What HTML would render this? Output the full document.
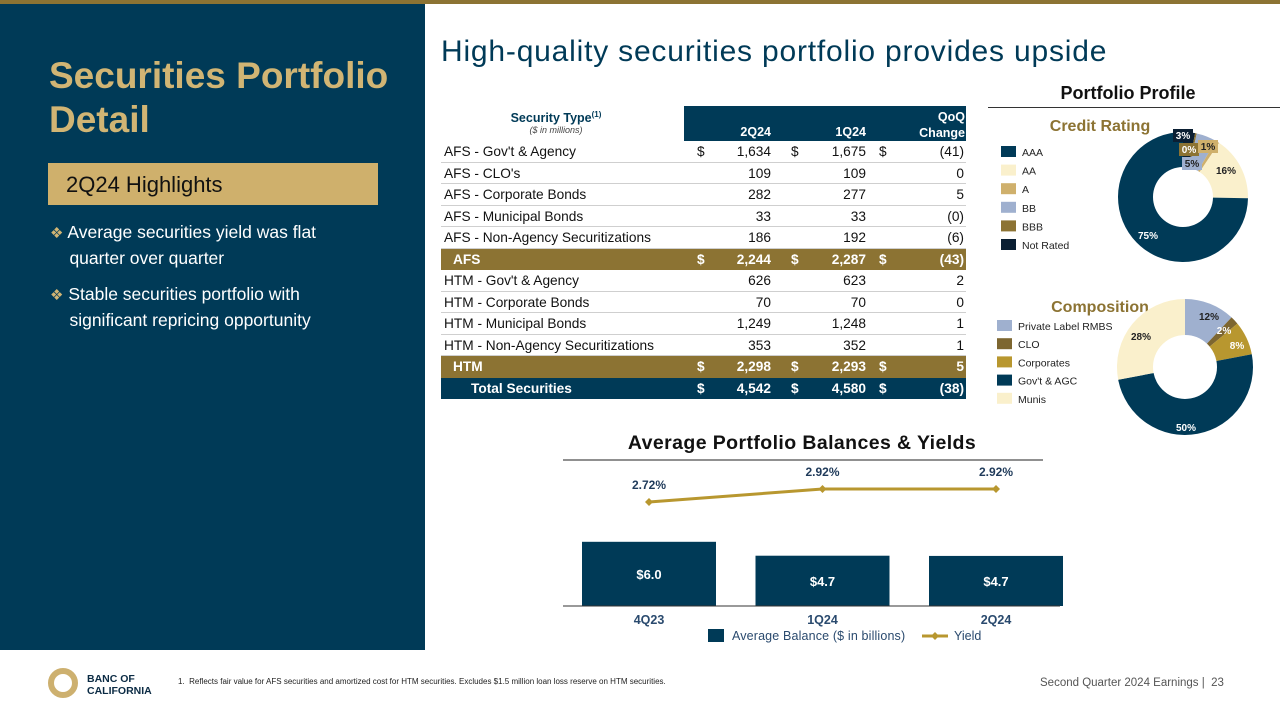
<!DOCTYPE html>
<html><head><meta charset="utf-8">
<style>
*{margin:0;padding:0;box-sizing:border-box}
body{width:1280px;height:720px;position:relative;background:#fff;font-family:"Liberation Sans",Arial,sans-serif;overflow:hidden}
.abs{position:absolute}
.row{position:absolute;left:441px;width:525px;height:21.5px;font-size:13.7px;color:#111;border-bottom:1px solid #cfcfcf}
.row span{position:absolute;top:3px;white-space:nowrap}
.tot{color:#fff;font-weight:bold;border-bottom:none}
</style></head><body>
<div class="abs" style="left:0;top:0;width:1280px;height:4px;background:#8c7333"></div>
<div class="abs" style="left:0;top:4px;width:425px;height:646px;background:#003a57">
  <div class="abs" style="left:49px;top:50px;font-size:37px;line-height:44px;font-weight:bold;color:#d1b574;white-space:nowrap">Securities Portfolio<br>Detail</div>
  <div class="abs" style="left:48px;top:159px;width:330px;height:42px;background:#cfb06c;color:#111;font-size:22px;padding:9px 0 0 18px">2Q24 Highlights</div>
  <div class="abs" style="left:50px;top:216px;width:370px;color:#fff;font-size:17.5px;line-height:25px"><span style="color:#d1b574;font-size:15px">❖</span> Average securities yield was flat<br>&nbsp;&nbsp;&nbsp;&nbsp;quarter over quarter</div>
  <div class="abs" style="left:50px;top:278px;width:370px;color:#fff;font-size:17.5px;line-height:25px"><span style="color:#d1b574;font-size:15px">❖</span> Stable securities portfolio with<br>&nbsp;&nbsp;&nbsp;&nbsp;significant repricing opportunity</div>
</div>
<div class="abs" style="left:441px;top:35px;font-size:30px;letter-spacing:0.8px;color:#003a57;white-space:nowrap">High-quality securities portfolio provides upside</div>

<div id="table">
  <div class="abs" style="left:684px;top:106px;width:282px;height:35px;background:#003a57"></div>
  <div class="abs" style="left:441px;top:110px;width:230px;text-align:center;color:#003a57;font-weight:bold;font-size:12.5px">Security Type<sup style="font-size:8px">(1)</sup><div style="font-weight:normal;font-style:italic;font-size:9px;color:#444">($ in millions)</div></div>
  <div class="abs" style="left:700px;top:125px;width:71px;text-align:right;color:#fff;font-weight:bold;font-size:12.5px">2Q24</div>
  <div class="abs" style="left:800px;top:125px;width:66px;text-align:right;color:#fff;font-weight:bold;font-size:12.5px">1Q24</div>
  <div class="abs" style="left:880px;top:109px;width:85px;text-align:right;color:#fff;font-weight:bold;font-size:12.5px;line-height:16px">QoQ<br>Change</div>
</div>

<div class="abs" style="left:988px;top:83px;width:280px;text-align:center;font-weight:bold;font-size:18px;color:#111">Portfolio Profile</div>
<div class="abs" style="left:988px;top:107px;width:292px;height:1px;background:#333"></div>

<svg class="abs" style="left:0;top:0" width="1280" height="720" id="svg">
  <text x="1100" y="131" text-anchor="middle" font-size="16" font-weight="bold" fill="#8c7333">Credit Rating</text>
  <text x="1100" y="312" text-anchor="middle" font-size="16" font-weight="bold" fill="#8c7333">Composition</text>
  <text x="802" y="449" text-anchor="middle" font-size="19.5" letter-spacing="0.4" font-weight="bold" fill="#111">Average Portfolio Balances &amp; Yields</text>
  <line x1="563" y1="460" x2="1043" y2="460" stroke="#222" stroke-width="1"/>
</svg>

<div class="abs" style="left:48px;top:668px;width:30px;height:30px;border-radius:50%;border:6px solid #cdb06f"></div>
<div class="abs" style="left:87px;top:673px;font-size:10.5px;font-weight:bold;color:#0b2b44;line-height:12px">BANC OF<br>CALIFORNIA</div>
<div class="abs" style="left:178px;top:677px;font-size:8px;color:#222">1.&nbsp; Reflects fair value for AFS securities and amortized cost for HTM securities. Excludes $1.5 million loan loss reserve on HTM securities.</div>
<div class="abs" style="left:1040px;top:677px;font-size:11.5px;color:#555">Second Quarter 2024 Earnings |&nbsp; 23</div>

<script>
// table data
const rowLabels=["AFS - Gov't & Agency","AFS - CLO's","AFS - Corporate Bonds","AFS - Municipal Bonds","AFS - Non-Agency Securitizations","AFS","HTM - Gov't & Agency","HTM - Corporate Bonds","HTM - Municipal Bonds","HTM - Non-Agency Securitizations","HTM","Total Securities"];
const val2Q24=["1,634","109","282","33","186","2,244","626","70","1,249","353","2,298","4,542"];
const val1Q24=["1,675","109","277","33","192","2,287","623","70","1,248","352","2,293","4,580"];
const valQoQ=["(41)","0","5","(0)","(6)","(43)","2","0","1","1","5","(38)"];
const dollarRows=[0,5,10,11];
// credit rating donut
const crLabels=["Not Rated","BBB","BB","A","AA","AAA"];
const crValues=[3,0.4,5,1,16,75];
const crText=["3%","0%","5%","1%","16%","75%"];
// composition donut
const coLabels=["Private Label RMBS","CLO","Corporates","Gov't & AGC","Munis"];
const coValues=[12,2,8,50,28];
// bar/line chart
const categories=["4Q23","1Q24","2Q24"];
const balances=[6.0,4.7,4.68];
const balanceLabels=["$6.0","$4.7","$4.7"];
const yields=[2.72,2.92,2.92];
const yieldLabels=["2.72%","2.92%","2.92%"];

const NS="http://www.w3.org/2000/svg";
const svg=document.getElementById('svg');
function el(tag,attrs,parent){const e=document.createElementNS(NS,tag);for(const k in attrs)e.setAttribute(k,attrs[k]);(parent||svg).appendChild(e);return e;}

// table rows
const tb=document.getElementById('table');
rowLabels.forEach((lab,i)=>{
  const r=document.createElement('div');
  
  
  const tot=(i===5||i===10||i===11);
  r.className='row'+(tot?' tot':'');
  r.style.top=(141+i*21.5)+'px';
  if(tot)r.style.background=(i===11)?'#003a57':'#8c7333';
  const ds=dollarRows.includes(i);
  r.innerHTML='<span style="left:'+(i===11?30:(tot?12:3))+'px">'+lab+'</span>'+
   (ds?'<span style="left:256px">$</span><span style="left:350px">$</span><span style="left:438px">$</span>':'')+
   '<span style="right:195px">'+val2Q24[i]+'</span><span style="right:100px">'+val1Q24[i]+'</span><span style="right:2px">'+valQoQ[i]+'</span>';
  tb.appendChild(r);
});

function donut(cx,cy,R,r,vals,cols,names,labels){
  const tot=vals.reduce((a,b)=>a+b,0);let a0=0;
  vals.forEach((v,i)=>{
    const a1=a0+v/tot*2*Math.PI;
    const p=(a,rad)=>[cx+rad*Math.sin(a),cy-rad*Math.cos(a)];
    const [x1,y1]=p(a0,R),[x2,y2]=p(a1,R),[x3,y3]=p(a1,r),[x4,y4]=p(a0,r);
    const lg=(a1-a0)>Math.PI?1:0;
    const s=el('path',{d:`M${x1},${y1}A${R},${R} 0 ${lg} 1 ${x2},${y2}L${x3},${y3}A${r},${r} 0 ${lg} 0 ${x4},${y4}Z`,fill:cols[i]});
    
    
    a0=a1;
  });
  labels.forEach(l=>{
    if(l[4]){const b=el('rect',{x:l[0]-10,y:l[1]-10,width:20,height:13,fill:l[4]});
      
      }
    const t=el('text',{x:l[0],y:l[1],'font-size':10,'font-weight':'bold','text-anchor':'middle',fill:l[3]});t.textContent=l[2];
    
    });
}
const crCols=["#0b1f33","#8c7333","#9fb0cf","#cfb06c","#faf0cc","#003a57"];
donut(1183,197,65,30,crValues,crCols,crLabels.map(s=>'slice-'+s.toLowerCase().replace(/ /g,'-')),
 [[1183,139,crText[0],'#fff','#0b1f33'],[1189,153,crText[1],'#fff','#8c7333'],[1192,167,crText[2],'#222','#9fb0cf'],[1208,150,crText[3],'#222','#cfb06c'],[1226,174,crText[4],'#222'],[1148,239,crText[5],'#fff']]);
const coCols=["#9fb0cf","#7d6630","#b8972f","#003a57","#faf0cc"];
donut(1185,367,68,32,coValues,coCols,coLabels.map(s=>'slice-'+s.toLowerCase().replace(/[^a-z]+/g,'-')),
 [[1209,320,coValues[0]+'%','#222'],[1224,334,coValues[1]+'%','#fff'],[1237,349,coValues[2]+'%','#fff'],[1186,431,coValues[3]+'%','#fff'],[1141,340,coValues[4]+'%','#222']]);
function legend(x,y,gap,labels,cols,fs){labels.forEach((l,i)=>{
  const r=el('rect',{x:x,y:y+i*gap,width:15,height:11,fill:cols[i]});
  
  
  const t=el('text',{x:x+21,y:y+i*gap+10,'font-size':fs,fill:'#222'});t.textContent=l;
  
  });}
legend(1001,146,18.6,["AAA","AA","A","BB","BBB","Not Rated"],["#003a57","#faf0cc","#cfb06c","#9fb0cf","#8c7333","#0b1f33"],10.5);
legend(997,320,18.2,coLabels,coCols,10.5);

// bar + line chart
const base=606, bpx=10.7, catX0=649, catStep=173.5, bw=134;
const xC=i=>catX0+i*catStep, yB=v=>base-v*bpx, yL=v=>502-(v-2.72)*65;
balances.forEach((v,i)=>{
  const r=el('rect',{x:xC(i)-bw/2,y:yB(v),width:bw,height:base-yB(v),fill:'#003a57'});
  
  
  const t=el('text',{x:xC(i),y:(yB(v)+base)/2+5,'text-anchor':'middle','font-size':13,'font-weight':'bold',fill:'#fff'});t.textContent=balanceLabels[i];
  
  
  const c=el('text',{x:xC(i),y:624,'text-anchor':'middle','font-size':12.5,'font-weight':'bold',fill:'#2a4a6e'});c.textContent=categories[i];
  
  
});
const ax=el('line',{x1:563,y1:base,x2:1060,y2:base,stroke:'#333','stroke-width':1});


const ln=el('polyline',{points:yields.map((v,i)=>xC(i)+','+yL(v)).join(' '),fill:'none',stroke:'#b8972f','stroke-width':3});


yields.forEach((v,i)=>{
  const x=xC(i),y=yL(v);
  const m=el('path',{d:`M${x},${y-4}L${x+4},${y}L${x},${y+4}L${x-4},${y}Z`,fill:'#b8972f'});
  
  
  const t=el('text',{x:x,y:y-13,'text-anchor':'middle','font-size':12,'font-weight':'bold',fill:'#1f3a5a'});t.textContent=yieldLabels[i];
  
  
});
const lr=el('rect',{x:708,y:629,width:16,height:13,fill:'#003a57'});


const lt=el('text',{x:732,y:640,'font-size':12.5,'letter-spacing':0.15,fill:'#2a4a6e'});lt.textContent='Average  Balance ($ in billions)';


const ll=el('line',{x1:922,y1:636,x2:948,y2:636,stroke:'#b8972f','stroke-width':3});


el('path',{d:'M935,632L939,636L935,640L931,636Z',fill:'#b8972f'});
const lt2=el('text',{x:954,y:640,'font-size':12.5,fill:'#2a4a6e'});lt2.textContent='Yield';


</script>
</body></html>
